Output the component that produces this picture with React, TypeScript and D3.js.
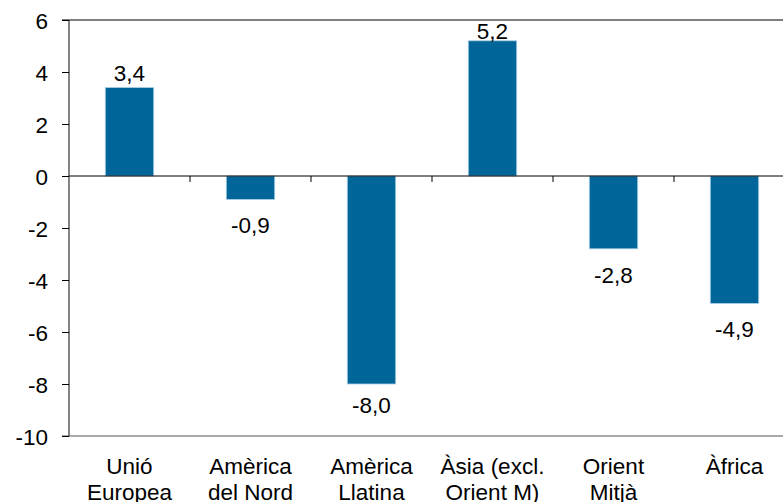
import * as d3 from 'd3';
import React, { useEffect, useRef } from 'react';

const categories = [
  ['Unió', 'Europea'],
  ['Amèrica', 'del Nord'],
  ['Amèrica', 'Llatina'],
  ['Àsia (excl.', 'Orient M)'],
  ['Orient', 'Mitjà'],
  ['Àfrica'],
];
const values = [3.4, -0.9, -8.0, 5.2, -2.8, -4.9];
const yTicks = [6, 4, 2, 0, -2, -4, -6, -8, -10];

const App = () => {
  const node = useRef<SVGSVGElement | null>(null);

  useEffect(() => {
    const width = 783;
    const height = 502;
    const left = 69;
    const top = 20;
    const bottom = 436;
    const font = 'Arial, "Liberation Sans", sans-serif';
    const fs = 22.5;

    const svg = d3.select(node.current);
    svg.selectAll('*').remove();
    svg.attr('width', width).attr('height', height);

    const idx = categories.map((_, i) => String(i));
    const x = d3
      .scaleBand()
      .domain(idx)
      .range([left, left + 121 * categories.length])
      .paddingInner(0.6)
      .paddingOuter(0.3);
    const xb = d3.scaleBand().domain(idx).range([left, left + 121 * categories.length]);
    const y = d3.scaleLinear().domain([-10, 6]).range([bottom, top]);

    // bars
    svg
      .selectAll('rect.bar')
      .data(values)
      .enter()
      .append('rect')
      .attr('class', 'bar')
      .attr('x', (_d, i) => x(String(i)) as number)
      .attr('width', x.bandwidth())
      .attr('y', (d) => y(Math.max(0, d)))
      .attr('height', (d) => Math.abs(y(d) - y(0)))
      .attr('fill', '#006699')
      .attr('stroke', '#a9cde3')
      .attr('stroke-width', 0.8);

    // frame lines
    svg
      .append('line')
      .attr('x1', 62)
      .attr('x2', width)
      .attr('y1', y(6))
      .attr('y2', y(6))
      .attr('stroke', '#000')
      .attr('stroke-width', 1.2);
    svg
      .append('line')
      .attr('x1', 62)
      .attr('x2', width)
      .attr('y1', y(-10))
      .attr('y2', y(-10))
      .attr('stroke', '#555')
      .attr('stroke-width', 1.2);
    svg
      .append('line')
      .attr('x1', left)
      .attr('x2', width)
      .attr('y1', y(0))
      .attr('y2', y(0))
      .attr('stroke', '#000')
      .attr('stroke-width', 1);

    // x ticks between categories
    svg
      .selectAll('line.xtick')
      .data(idx.slice(1))
      .enter()
      .append('line')
      .attr('class', 'xtick')
      .attr('x1', (d) => xb(d) as number)
      .attr('x2', (d) => xb(d) as number)
      .attr('y1', y(0))
      .attr('y2', y(0) + 6)
      .attr('stroke', '#000');

    // y axis
    const yAxis = d3
      .axisLeft(y)
      .tickValues(yTicks)
      .tickSize(7)
      .tickPadding(14)
      .tickFormat((d) => String(d));
    const gy = svg.append('g').attr('transform', 'translate(' + left + ',0)').call(yAxis);
    gy.select('.domain').attr('stroke', '#333').attr('stroke-width', 1.2).attr('d', `M0,${top}V${bottom}`);
    gy.selectAll('text')
      .attr('font-family', font)
      .attr('font-size', fs)
      .attr('fill', '#000')
      .attr('dy', '0.36em');

    // value labels
    svg
      .selectAll('text.val')
      .data(values)
      .enter()
      .append('text')
      .attr('class', 'val')
      .attr('x', (_d, i) => (x(String(i)) as number) + x.bandwidth() / 2)
      .attr('y', (d) => (d >= 0 ? Math.max(y(d) - 7, 39) : Math.min(y(d) + 34, 413)))
      .attr('text-anchor', 'middle')
      .attr('font-family', font)
      .attr('font-size', fs)
      .attr('fill', '#000')
      .text((d) => d.toFixed(1).replace('.', ','));

    // category labels
    const cat = svg
      .selectAll('text.cat')
      .data(categories)
      .enter()
      .append('text')
      .attr('class', 'cat')
      .attr('text-anchor', 'middle')
      .attr('font-family', font)
      .attr('font-size', fs)
      .attr('fill', '#000');
    cat
      .selectAll('tspan')
      .data((d, i) => d.map((t) => ({ t, i })))
      .enter()
      .append('tspan')
      .attr('x', (d) => (xb(String(d.i)) as number) + xb.bandwidth() / 2)
      .attr('y', (_d, j) => 474 + j * 26)
      .text((d) => d.t);
  }, []);

  return (
    <svg
      ref={node}
      style={{ position: 'absolute', left: 0, top: 0, display: 'block' }}
    />
  );
};

export default App;
